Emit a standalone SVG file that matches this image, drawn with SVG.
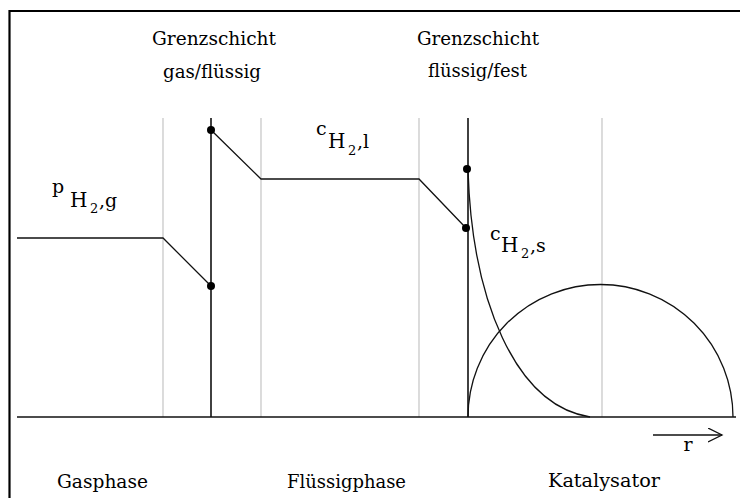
<svg xmlns="http://www.w3.org/2000/svg" width="740" height="498" viewBox="0 0 740 498">
<style>
  text { font-family: "DejaVu Serif", "Liberation Serif", serif; fill: #000; }
  .lbl { font-size: 18px; text-anchor: middle; }
  .sym { font-size: 19px; }
  .cap { font-size: 20px; }
  .sub { font-size: 13px; }
  .gray { stroke: #c4c4c4; stroke-width: 1.2; fill: none; }
  .wall { stroke: #111; stroke-width: 1.6; fill: none; }
  .prof { stroke: #111; stroke-width: 1.3; fill: none; }
  .dot { fill: #000; }
</style>
<defs>
  <marker id="open" markerWidth="16" markerHeight="16" refX="14" refY="7" orient="auto" markerUnits="userSpaceOnUse">
    <path d="M0,0 L14,7 L0,14" fill="none" stroke="#111" stroke-width="1.3"/>
  </marker>
</defs>
<rect width="740" height="498" fill="#fff"/>
<g id="frame">
  <line x1="9.5" y1="11" x2="740" y2="11" stroke="#000" stroke-width="2.2"/>
  <line x1="9.5" y1="10" x2="9.5" y2="498" stroke="#000" stroke-width="2.2"/>
</g>
<g id="regions">
  <line class="gray" x1="163" y1="118" x2="163" y2="417"/>
  <line class="gray" x1="261" y1="118" x2="261" y2="417"/>
  <line class="gray" x1="419" y1="118" x2="419" y2="417"/>
  <line class="gray" x1="602" y1="118" x2="602" y2="417"/>
</g>
<g id="interfaces">
  <line class="wall" x1="211" y1="118" x2="211" y2="417"/>
  <line class="wall" x1="468" y1="118" x2="468" y2="417"/>
</g>
<g id="axis">
  <line x1="17" y1="417" x2="736" y2="417" stroke="#111" stroke-width="1.6"/>
</g>
<g id="catalyst">
  <path class="prof" d="M468,417 A132.5,132.5 0 0 1 733,417"/>
</g>
<g id="connectors">
  <polyline class="prof" points="17,238 163,238 211,286"/>
  <polyline class="prof" points="211,130 261,179 419,179 466,228"/>
  <path class="prof" d="M468,170 C472,300 515,405 590,417"/>
  <line x1="653" y1="435" x2="722" y2="435" stroke="#111" stroke-width="1.3" marker-end="url(#open)"/>
</g>
<g id="points">
  <circle class="dot" cx="211" cy="130" r="4"/>
  <circle class="dot" cx="211" cy="286" r="4"/>
  <circle class="dot" cx="467" cy="169" r="4"/>
  <circle class="dot" cx="466" cy="228" r="4"/>
</g>
<g id="header-left">
  <text class="lbl" x="214" y="45" textLength="124" lengthAdjust="spacingAndGlyphs">Grenzschicht</text>
  <text class="lbl" x="212" y="78" textLength="98" lengthAdjust="spacingAndGlyphs">gas/flüssig</text>
</g>
<g id="header-right">
  <text class="lbl" x="478" y="45" textLength="122" lengthAdjust="spacingAndGlyphs">Grenzschicht</text>
  <text class="lbl" x="477.5" y="77" textLength="99" lengthAdjust="spacingAndGlyphs">flüssig/fest</text>
</g>
<g id="label-pH2g">
  <text class="sym" x="52" y="193">p</text>
  <text class="cap" x="70" y="207">H</text>
  <text class="sub" x="90" y="213">2</text>
  <text class="sym" x="99" y="207">,g</text>
</g>
<g id="label-cH2l">
  <text class="sym" x="316" y="135">c</text>
  <text class="cap" x="328" y="148">H</text>
  <text class="sub" x="348" y="155">2</text>
  <text class="sym" x="357" y="148">,l</text>
</g>
<g id="label-cH2s">
  <text class="sym" x="490" y="240">c</text>
  <text class="cap" x="501" y="252">H</text>
  <text class="sub" x="521" y="258">2</text>
  <text class="sym" x="530" y="252">,s</text>
</g>
<g id="label-r">
  <text class="sym" x="688" y="451" text-anchor="middle">r</text>
</g>
<g id="phases">
  <text class="lbl" x="102.5" y="488" textLength="91" lengthAdjust="spacingAndGlyphs">Gasphase</text>
  <text class="lbl" x="346.5" y="488" textLength="119" lengthAdjust="spacingAndGlyphs">Flüssigphase</text>
  <text class="lbl" x="604" y="487" textLength="112" lengthAdjust="spacingAndGlyphs">Katalysator</text>
</g>
</svg>
